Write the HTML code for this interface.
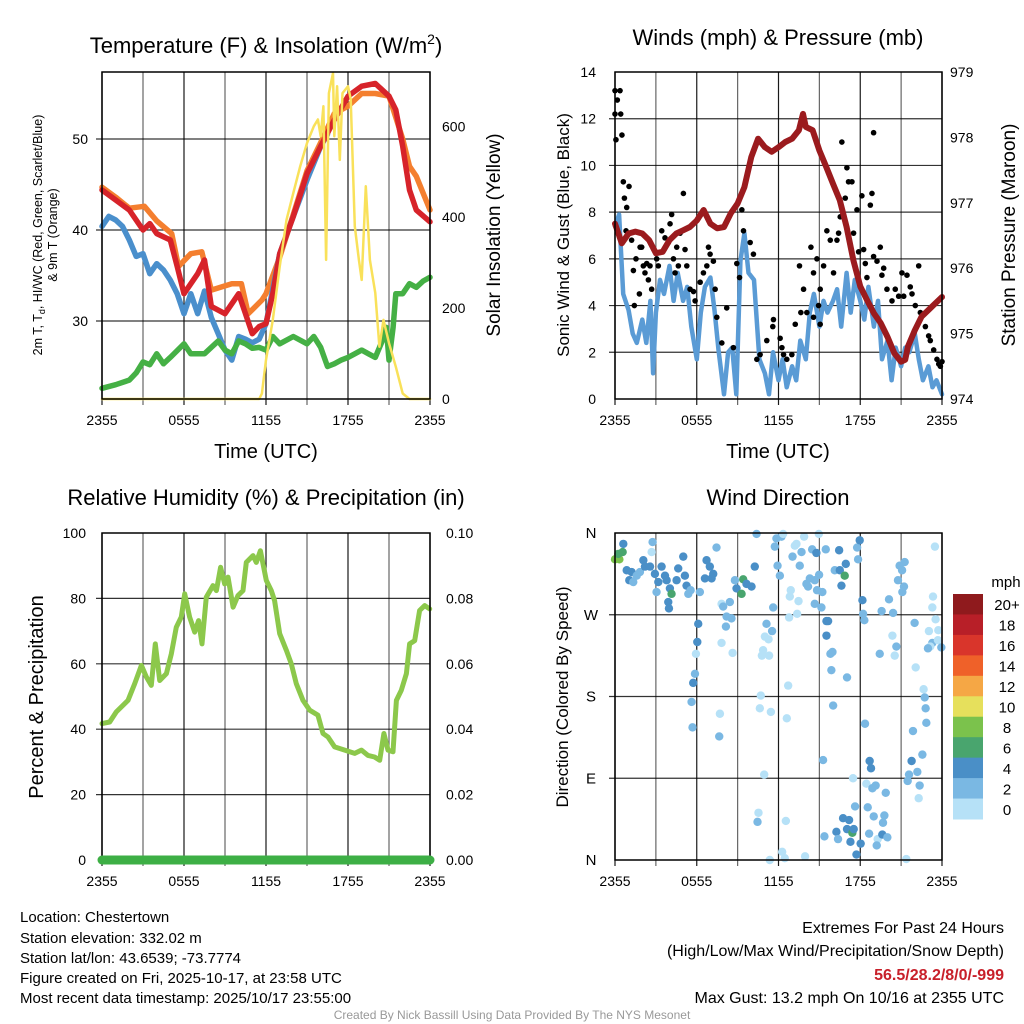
<!DOCTYPE html>
<html><head><meta charset="utf-8"><style>
html,body{margin:0;padding:0;background:#fff;}
svg{display:block;font-family:"Liberation Sans",Arial,sans-serif;}
</style></head><body>
<svg id="chart" width="1024" height="1024" viewBox="0 0 1024 1024" xmlns="http://www.w3.org/2000/svg">
<rect width="1024" height="1024" fill="#fff"/>
<g id="layer"></g>
<text x="266" y="53" font-size="22" text-anchor="middle">Temperature (F) &amp; Insolation (W/m<tspan dy="-9" font-size="14">2</tspan><tspan dy="9">)</tspan></text>
<text x="778" y="45" font-size="22" text-anchor="middle">Winds (mph) &amp; Pressure (mb)</text>
<text x="266" y="505" font-size="22" text-anchor="middle">Relative Humidity (%) &amp; Precipitation (in)</text>
<text x="778" y="505" font-size="22" text-anchor="middle">Wind Direction</text>
<g font-size="12.5" text-anchor="middle">
<text transform="translate(42,235) rotate(-90)">2m T, T<tspan dy="3" font-size="9">d</tspan><tspan dy="-3">, HI/WC (Red, Green, Scarlet/Blue)</tspan></text>
<text transform="translate(57,235) rotate(-90)">&amp; 9m T (Orange)</text></g>
<text transform="translate(500,235) rotate(-90)" font-size="19" text-anchor="middle">Solar Insolation (Yellow)</text>
<text transform="translate(569,235) rotate(-90)" font-size="17" text-anchor="middle">Sonic Wind &amp; Gust (Blue, Black)</text>
<text transform="translate(1015,235) rotate(-90)" font-size="19" text-anchor="middle">Station Pressure (Maroon)</text>
<text transform="translate(43,697) rotate(-90)" font-size="20" text-anchor="middle">Percent &amp; Precipitation</text>
<text transform="translate(568,697) rotate(-90)" font-size="17" text-anchor="middle">Direction (Colored By Speed)</text>
<text x="266" y="458" font-size="20" text-anchor="middle">Time (UTC)</text>
<text x="778" y="458" font-size="20" text-anchor="middle">Time (UTC)</text>
<g font-size="15">
<text x="20" y="922">Location: Chestertown</text>
<text x="20" y="943">Station elevation: 332.02 m</text>
<text x="20" y="963">Station lat/lon: 43.6539; -73.7774</text>
<text x="20" y="983">Figure created on Fri, 2025-10-17, at 23:58 UTC</text>
<text x="20" y="1003">Most recent data timestamp: 2025/10/17 23:55:00</text></g>
<g font-size="16" text-anchor="end">
<text x="1004" y="933">Extremes For Past 24 Hours</text>
<text x="1004" y="956">(High/Low/Max Wind/Precipitation/Snow Depth)</text>
<text x="1004" y="980" fill="#c8202a" font-weight="bold">56.5/28.2/8/0/-999</text>
<text x="1004" y="1003">Max Gust: 13.2 mph On 10/16 at 2355 UTC</text></g>
<text x="512" y="1019" font-size="12" fill="#999" text-anchor="middle">Created By Nick Bassill Using Data Provided By The NYS Mesonet</text>
</svg>
<script>
// ---- data ----
const xTickLabels=["2355","0555","1155","1755","2355"];
const tempTicks=[30,40,50];
const solarTicks=[0,200,400,600];
const windTicks=[0,2,4,6,8,10,12,14];
const presTicks=[974,975,976,977,978,979];
const rhTicks=[0,20,40,60,80,100];
const precipTicks=["0.00","0.02","0.04","0.06","0.08","0.10"];
const dirTickLabels=["N","W","S","E","N"];
const cbLabels=["20+","18","16","14","12","10","8","6","4","2","0"];
const cbColors=["#8f1a1d","#b81f28","#d9352b","#ef6129","#f5a745","#e6e05c","#7bc24c","#49a56e","#4a8fc7","#7ab8e3","#b6e1f7"];

const redT=[0,1,2,3,3.5,4,5,5.5,6,7,7.5,8,9,10,11,11.5,12,12.5,13,14,15,16,17,18,19,20,21,21.5,22,22.5,23,24];
const redV=[44.4,43.3,42.2,40,40.7,39.6,38.9,36,33,35.2,36.7,31.6,30.8,33,28.6,29.4,29.7,33,37.4,41.5,46.2,49.2,52.1,54.7,55.8,56.1,54.7,53.2,49.2,44.4,42.2,40.9];
const orT=[0,1,2,3.1,4,5.1,5.6,6.5,7.3,8,9.5,10.2,10.7,11.7,12,13,14,15,16,17,18,19,20,21,22,22.5,23,24];
const orV=[44.7,43.6,42.4,42.6,41,39.6,36,37.4,37.6,33.4,34.1,34.1,30.8,32.3,33,37,41.7,46.5,49.6,52.8,53.6,55,55,54.7,50,47,45.9,42.2];
const blT=[0,0.5,1,1.5,2,2.5,3,3.5,4,4.5,5,5.5,6,6.5,7,7.5,8,8.5,9,9.5,10,10.5,11,11.5,12,13,14,15,16,16.5];
const blV=[40.4,41.5,41.1,40.4,38.9,37.1,37.4,35.2,36.3,35.6,34.5,33,30.8,33,30.8,33.3,30.4,28.6,26.8,25.7,28.3,28,27.6,28,29.7,37.4,41.5,45.5,49.2,50.5];
const dpT=[0,1,2,2.5,3,3.5,4,4.5,5,6,6.5,7,7.5,8,8.5,9,9.5,10,10.5,11,11.5,12,12.5,13,14,15,15.5,16,16.5,17,17.5,18,18.5,19,19.5,20,20.5,20.8,21,21.3,21.5,22,22.5,23,23.5,24];
const dpV=[22.6,23,23.5,24.3,25.5,25.2,26.4,25.3,26,27.5,26.4,26.4,26.4,27.1,27.8,26.8,26.4,27.8,27.5,27,27.1,26.8,28.3,27.5,28.3,27.5,28.3,27.1,25,25.3,25.7,26,26.4,26.8,26.4,26,27.8,29.3,25.7,29.3,33,33,34.1,33.7,34.4,34.8];
const solT=[0,11.5,11.7,12,12.5,13,13.5,14,14.5,15,15.5,15.8,16,16.2,16.4,16.6,16.9,17,17.2,17.4,17.6,18,18.2,18.5,18.8,19,19.3,19.6,20,20.3,20.6,21,21.5,22,22.5,24];
const solV=[0,0,12,86,174,291,394,453,512,563,600,615,578,644,306,673,717,578,688,526,673,688,660,380,306,262,468,306,233,115,174,123,71,12,0,0];

const windT=[0,0.3,0.6,1,1.3,1.6,2,2.3,2.6,2.8,3,3.3,3.6,4,4.3,4.6,5,5.3,5.6,6,6.3,6.6,7,7.3,7.6,8,8.3,8.6,8.9,9.2,9.5,9.8,10.2,10.6,11,11.3,11.6,12,12.3,12.6,13,13.3,13.6,14,14.3,14.6,15,15.3,15.6,16,16.3,16.6,17,17.3,17.6,18,18.3,18.6,19,19.3,19.6,20,20.3,20.6,21,21.3,21.6,22,22.3,22.6,23,23.3,23.6,24];
const windV=[7.4,7.9,4.5,3.8,2.8,2.4,3.4,2.4,4.2,1.1,3.7,5.1,4.5,5.7,4.2,5.4,4.2,4.8,3.1,1.7,3.7,4.8,5.2,3.8,2.1,0.2,2.0,2.2,0.2,5.9,7.1,5.4,5.1,1.7,1.1,0.2,2.0,0.8,1.7,0.5,1.4,0.8,2.5,1.7,3.7,4.5,3.1,4.2,3.7,4.2,4.7,3.1,5.4,3.7,5.1,4.2,3.4,4.8,3.1,4.2,1.7,2.5,0.8,2.2,1.4,2.2,2.0,2.8,1.7,0.8,1.4,0.5,0.8,0.2];
const gustT=[0,0.37,0.17,0,0.42,0.07,0.51,0.61,1.03,0.69,0.86,0.81,1.22,1.54,1.35,1.84,1.96,2.08,2.2,2.33,2.45,2.57,2.69,1.79,1.42,3.06,3.18,3.43,3.67,3.92,4.04,4.16,4.29,4.41,4.53,4.65,4.78,5.02,5.14,5.27,5.51,5.76,5.88,6.25,6.49,6.74,6.86,6.98,7.22,7.35,7.47,7.84,8.2,8.69,8.94,9.14,9.31,9.43,9.92,10.16,10.41,10.65,11.14,11.58,11.63,12.12,12.37,12.61,12.98,13.23,13.54,13.64,13.84,14.08,14.38,14.57,14.82,15.06,15.31,15.55,15.8,16.04,16.29,16.41,16.53,16.65,16.9,17.02,17.14,17.39,17.51,17.76,17.88,18.12,18.25,18.37,18.49,18.74,18.86,18.98,19.23,19.47,19.59,19.72,19.96,20.33,20.57,20.82,21.06,21.19,21.43,21.67,21.8,22.04,22.29,22.41,22.78,23.02,23.14,23.39,23.63,23.76,23.88,24,18.98,15.06,14.57,14.94,12.25];
const gustV=[13.2,13.2,12.8,12.2,12.2,11.1,11.3,9.3,9.1,8.6,8.2,7.2,6.8,6.0,5.5,6.5,6.5,5.7,5.4,5.8,5.1,5.7,4.7,4.5,4.0,6.0,5.7,7.2,6.9,6.7,7.5,7.9,6.0,5.4,6.5,5.7,7.1,8.8,6.4,5.7,4.7,4.6,4.2,5.0,5.4,5.7,6.5,6.2,5.9,4.7,3.5,2.4,3.9,2.2,5.8,5.2,8.1,7.2,6.7,6.2,1.7,1.9,2.5,3.1,3.4,2.6,1.9,1.7,1.9,3.2,5.7,3.7,4.7,3.7,6.5,5.4,6.0,4.7,5.7,7.2,6.8,5.4,6.8,7.1,7.8,11.0,8.6,9.9,9.3,9.3,7.1,8.1,6.3,8.7,6.4,5.8,5.2,8.3,8.8,6.1,5.9,6.5,5.3,5.6,4.7,4.2,4.7,4.4,5.4,4.4,5.3,4.8,4.5,4.0,5.7,3.7,3.1,2.7,2.5,2.1,1.7,1.5,1.4,1.6,11.4,3.2,3.5,4.0,2.2];
const presT=[0,0.5,1,1.5,2,2.5,3,3.5,4,4.5,5,5.5,6,6.5,7,7.5,8,8.5,9,9.5,10,10.5,11,11.5,12,12.5,13,13.5,13.8,14,14.5,15,15.5,16,16.5,17,17.5,18,18.5,19,19.5,20,20.5,21,21.3,21.5,22,22.5,23,23.5,24];
const presV=[976.68,976.38,976.53,976.56,976.53,976.43,976.23,976.25,976.43,976.53,976.58,976.63,976.73,976.89,976.68,976.61,976.63,976.84,976.99,977.24,977.7,977.98,977.85,977.78,977.85,977.93,977.98,978.11,978.36,978.16,978.11,977.8,977.55,977.29,977.04,976.63,976.12,975.72,975.51,975.31,975.16,974.95,974.7,974.57,974.6,974.8,975.05,975.26,975.36,975.46,975.56];

const rhT=[0,0.56,1.05,1.9,2.39,2.88,3.24,3.61,3.9,4.22,4.71,5.07,5.44,5.8,6.05,6.41,6.78,7.07,7.32,7.63,8.12,8.37,8.68,8.98,9.22,9.59,9.95,10.32,10.56,11.05,11.29,11.59,12.02,12.39,12.63,13,13.49,13.85,14.22,14.71,15.2,15.8,16.17,16.54,17.02,17.76,18.49,18.98,19.46,19.95,20.32,20.63,20.93,21.29,21.54,21.9,22.27,22.51,22.88,23.24,23.61,23.98];
const rhV=[41.7,42.2,45.3,48.8,53.9,59.5,56,53.4,66.1,54.9,57,63,71.2,74.3,81.4,74.3,69.7,73.2,66.1,80.4,83.9,82.4,89.5,84.4,86.5,77.3,80.9,82.4,91,93.1,91,94.6,85.5,82.4,79.3,69.2,64.1,60,53.9,48.8,45.8,44.3,38.7,37.6,34.6,33.6,32.6,33.6,32,31.5,30.5,38.7,33.6,33.1,48.8,51.9,57,66.1,67.1,76.3,77.8,76.8];
const precipT=[0,24];
const precipV=[0,0];

const dirT=[0.61,0.56,0,0.32,0.24,0.86,1.22,1.05,1.34,1.59,1.83,2.08,2.2,2.57,2.76,2.69,2.93,3.05,3.18,3.42,3.67,3.79,4.03,4.15,3.91,3.96,4.52,4.64,5.01,5.13,5.25,5.38,5.55,6.23,6.6,6.72,6.96,7.09,7.21,7.45,7.82,7.94,8.19,8.43,8.55,8.14,8.8,8.92,9.41,9.29,9.65,10.02,10.26,10.39,6.11,6.04,5.94,5.87,5.74,5.62,5.69,7.7,7.65,7.82,8.63,11.12,11,11.27,10.87,10.78,11.31,11.53,10.7,10.63,11.44,12.71,12.61,10.95,10.53,10.46,12.54,12.27,12.46,11.36,13.95,11.73,11.85,12.22,12.34,12.1,11.93,13.03,13.2,13.32,13.69,13.56,13.88,14.47,14.78,15.47,14.96,14.3,14.17,14.05,14.66,14.98,15.22,14.83,14.66,15.15,12.9,12.83,13.47,13.37,12.78,11.61,16.45,16.13,16.5,16.94,16.86,16.62,17.77,17.96,17.84,18.16,18.21,18.3,15.52,15.64,15.52,15.81,15.96,15.88,17.03,16.01,15.27,17.47,18.35,18.69,18.79,18.45,18.89,19.13,19.87,17.62,18.55,18.99,19.77,19.67,16.74,17.18,17.03,17.42,17.52,16.25,15.37,16.37,17.28,18.03,17.72,18.65,19.28,19.21,19.62,19.99,19.43,19.57,20.11,20.41,20.36,20.65,20.53,20.77,20.89,21.07,21.26,21.21,21.09,21.99,23.04,23.29,23.14,22.97,23.73,23.7,23.95,23.48,23.34,23.29,23.53,22.07,22.65,22.73,22.8,22.85,21.87,22.56,21.77,22.19,21.58,21.48,22.36,22.29,21.38];
const dirDeg=[348,339,331,331,337,319,317,308,306,313,317,330,323,323,350,339,315,295,306,323,313,308,299,293,284,277,308,321,334,313,302,293,297,295,310,330,323,310,315,344,282,279,268,284,266,257,308,299,309,293,304,301,323,359,260,240,227,205,195,174,146,161,136,239,228,260,246,243,231,225,225,252,181,167,163,192,156,94,52,42,43,9,2,0,4,345,354,356,359,313,324,334,346,348,339,324,356,342,338,342,359,310,301,304,308,314,295,297,282,278,297,290,285,271,267,278,341,319,319,326,313,302,344,352,331,286,271,264,263,263,247,227,229,209,201,170,110,90,150,109,101,84,79,82,74,59,58,48,49,41,46,44,34,30,34,31,26,23,20,18,6,29,23,16,28,25,227,274,287,272,247,235,225,308,324,319,328,301,295,261,252,239,235,233,253,242,234,345,290,278,265,212,188,179,167,151,142,116,109,97,94,87,82,68,1];
const dirSpd=[5,7,9,9,7,5,5,5,3,3,3,5,5,5,3,1,5,3,5,5,5,5,5,7,5,5,5,5,5,5,5,3,3,3,5,5,5,5,5,3,1,3,3,3,3,3,3,5,7,7,5,5,5,3,5,5,1,3,5,3,3,1,3,1,1,3,1,1,1,1,1,3,1,1,1,1,1,1,1,3,1,1,1,1,1,3,3,3,1,3,3,3,1,1,3,3,1,3,5,3,1,3,3,3,3,3,3,3,3,3,1,1,1,1,1,3,5,3,5,5,7,5,3,5,3,5,3,3,5,5,5,3,3,3,3,3,3,1,3,5,5,1,3,3,3,3,3,3,3,3,5,5,5,7,5,5,3,3,5,5,5,3,1,3,5,3,3,3,3,3,1,3,1,3,3,3,3,3,3,3,1,3,1,3,1,1,3,1,1,1,1,1,1,3,3,3,3,3,5,3,3,3,3,1];

// ---- helpers ----
const NS="http://www.w3.org/2000/svg";
const layer=document.getElementById('layer');
function mk(tag,attrs,parent){const e=document.createElementNS(NS,tag);for(const k in attrs)e.setAttribute(k,attrs[k]);(parent||layer).appendChild(e);return e;}
function panel(L,R,T,B){return {L,R,T,B,x:t=>L+t/24*(R-L)};}
const P1=panel(102,430,72,399),P2=panel(615,942,72,399),P3=panel(102,430,533,860),P4=panel(615,942,533,860);
const yTemp=v=>321-(v-30)*9.1, ySol=v=>399-v*0.4545;
const yWind=v=>399-v*(327/14), yPres=v=>399-(v-974)*(327/5);
const yRH=v=>860-v*3.27, yPr=v=>860-v*3270;
const yDir=v=>860-v/360*327;

function grid(P,hvals,yf,name){
  const g=mk('g',{});
  
  
  for(let i=0;i<=8;i++){const x=P.L+i*(P.R-P.L)/8;mk('line',{x1:x,x2:x,y1:P.T,y2:P.B+6,stroke:'#000','stroke-width':1.2,'stroke-opacity':i%2?0.6:0.9},g);}
  hvals.forEach(v=>{const y=yf(v);mk('line',{x1:P.L-6,x2:P.R,y1:y,y2:y,stroke:'#000','stroke-width':1.2,'stroke-opacity':0.8},g);});
}
function frame(P,name){const r=mk('rect',{x:P.L,y:P.T,width:P.R-P.L,height:P.B-P.T,fill:'none',stroke:'#000','stroke-width':1.5});
  
  }
function xlabels(P,name){const g=mk('g',{'font-size':14,'text-anchor':'middle'});
  
  
  xTickLabels.forEach((s,i)=>{const t=mk('text',{x:P.x(i*6),y:P.B+26},g);t.textContent=s;});}
function ylabels(vals,yf,x,anchor,name,fmt){const g=mk('g',{'font-size':14,'text-anchor':anchor});
  
  
  vals.forEach(v=>{const t=mk('text',{x:x,y:yf(v)+5},g);t.textContent=fmt?fmt(v):v;});}
function line(P,T,V,yf,color,w,name){let d='';T.forEach((t,i)=>{d+=(i?'L':'M')+P.x(t).toFixed(1)+','+yf(V[i]).toFixed(1);});
  const p=mk('path',{d:d,fill:'none',stroke:color,'stroke-width':w,'stroke-linejoin':'round','stroke-linecap':'round'});
  
  
  return p;}

// ---- Panel 1 ----
grid(P1,tempTicks,yTemp,'temp');
line(P1,orT,orV,yTemp,'#f47f2f',5.5,'line-9m-temp');
line(P1,blT,blV,yTemp,'#4a8fcc',5.5,'line-heat-index-windchill');
line(P1,redT,redV,yTemp,'#d7232a',5.5,'line-2m-temp');
line(P1,dpT,dpV,yTemp,'#45b045',5.5,'line-dewpoint');
line(P1,solT,solV,ySol,'#f9e15a',2.5,'line-solar-insolation');
frame(P1,'temp');
xlabels(P1,'temp');
ylabels(tempTicks,yTemp,88,'end','temp-y-tick-labels');
ylabels(solarTicks,ySol,442,'start','solar-y-tick-labels');

// ---- Panel 2 ----
grid(P2,windTicks.slice(1,7),yWind,'wind');
line(P2,windT,windV,yWind,'#5a9bd5',4.5,'line-sonic-wind');
const gg=mk('g',{});


gustT.forEach((t,i)=>{const c=mk('circle',{cx:P2.x(t),cy:yWind(gustV[i]),r:2.8,fill:'#000'},gg);
  
  });
line(P2,presT,presV,yPres,'#9b1b1e',6,'line-station-pressure');
frame(P2,'wind');
xlabels(P2,'wind');
ylabels(windTicks,yWind,596,'end','wind-y-tick-labels');
ylabels(presTicks,yPres,950,'start','pressure-y-tick-labels');

// ---- Panel 3 ----
grid(P3,rhTicks.slice(1,5),yRH,'rh');
line(P3,rhT,rhV,yRH,'#8cc84b',5,'line-relative-humidity');
frame(P3,'rh');
line(P3,precipT,precipV,yPr,'#3daf45',9,'line-precipitation');
xlabels(P3,'rh');
ylabels(rhTicks,yRH,86,'end','rh-y-tick-labels');
ylabels(precipTicks.map(Number),yPr,446,'start','precip-y-tick-labels',v=>v.toFixed(2));

// ---- Panel 4 ----
grid(P4,[90,180,270],yDir,'direction');
const spdColor=s=>{if(s===undefined||isNaN(s))s=1;const idx=10-Math.min(10,Math.floor(s/2));return cbColors[idx];};
const dg=mk('g',{});


dirT.forEach((t,i)=>{const c=mk('circle',{cx:P4.x(t),cy:yDir(dirDeg[i]),r:4.2,fill:spdColor(dirSpd[i])},dg);
  
  });
frame(P4,'direction');
xlabels(P4,'direction');
const dl=mk('g',{'font-size':15,'text-anchor':'middle'});


dirTickLabels.forEach((s,i)=>{const t=mk('text',{x:591,y:yDir(360-i*90)+5},dl);t.textContent=s;});

// colorbar
const cb=mk('g',{});


const cbT=mk('text',{x:1006,y:587,'font-size':15,'text-anchor':'middle'},cb);cbT.textContent='mph';
const boxH=(819-594)/cbColors.length;
cbColors.forEach((c,i)=>{const r=mk('rect',{x:953,y:594+i*boxH,width:30,height:boxH+0.5,fill:c},cb);
  
  
  const t=mk('text',{x:1007,y:594+i*boxH+boxH/2+6,'font-size':15,'text-anchor':'middle'},cb);t.textContent=cbLabels[i];});
</script>
</body></html>
